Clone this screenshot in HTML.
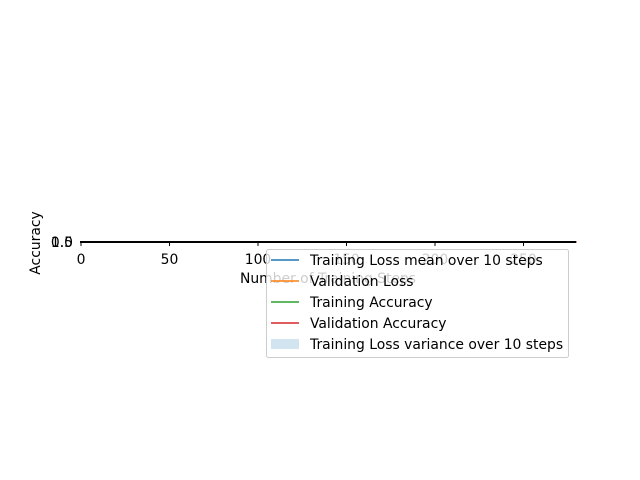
<!DOCTYPE html>
<html><head><meta charset="utf-8"><style>
body{margin:0;background:#fff;}
svg{display:block;font-family:"DejaVu Sans","Liberation Sans",sans-serif;}
</style></head><body>
<svg id="c" width="640" height="480">
<rect width="640" height="480" fill="#fff"/>
<g id="marks"></g>
<rect x="80" y="241" width="496" height="2" fill="#000"/>
<g id="xt"></g>
<text x="73" y="247" font-size="13.9" text-anchor="end">0.5</text>
<text x="73" y="247" font-size="13.9" text-anchor="end">1.0</text>
<text x="328" y="283" font-size="13.9" text-anchor="middle">Number of Training Steps</text>
<text transform="translate(40,243) rotate(-90)" font-size="13.9" text-anchor="middle">Accuracy</text>
<g>
<rect x="266.5" y="249.5" width="302" height="108" rx="2" fill="#fff" fill-opacity="0.8" stroke="#ccc"/>
<line x1="271" x2="299" y1="260" y2="260" stroke="#1f77b4" stroke-width="1.5"/>
<text x="310" y="265" font-size="13.9">Training Loss mean over 10 steps</text>
<line x1="271" x2="299" y1="281" y2="281" stroke="#ff7f0e" stroke-width="1.5"/>
<text x="310" y="286" font-size="13.9">Validation Loss</text>
<line x1="271" x2="299" y1="302" y2="302" stroke="#2ca02c" stroke-width="1.5"/>
<text x="310" y="307" font-size="13.9">Training Accuracy</text>
<line x1="271" x2="299" y1="323" y2="323" stroke="#d62728" stroke-width="1.5"/>
<text x="310" y="328" font-size="13.9">Validation Accuracy</text>
<rect x="271" y="339" width="28" height="10" fill="#1f77b4" fill-opacity="0.2"/>
<text x="310" y="349" font-size="13.9">Training Loss variance over 10 steps</text>
</g>
</svg>
<script>
const xTicks=[0,50,100,150,200,250];
const steps=[0,280];
const trainAcc=[0.75,0.75];
const valAcc=[0.75,0.75];
const x0=81,xs=1.77,yTop=241.5,yBot=242.5,yMin=0.5,yMax=1.0;
const sx=v=>x0+v*xs, sy=v=>yBot-(v-yMin)/(yMax-yMin)*(yBot-yTop);
const NS="http://www.w3.org/2000/svg";
const xt=document.getElementById('xt');
xTicks.forEach(t=>{
 const l=document.createElementNS(NS,'line');
 l.setAttribute('x1',sx(t));l.setAttribute('x2',sx(t));l.setAttribute('y1',243);l.setAttribute('y2',246);l.setAttribute('stroke','#000');
 
 
 xt.appendChild(l);
 const tx=document.createElementNS(NS,'text');
 tx.setAttribute('x',sx(t));tx.setAttribute('y',264);tx.setAttribute('font-size','13.9');tx.setAttribute('text-anchor','middle');tx.textContent=t;
 
 
 xt.appendChild(tx);
});
const m=document.getElementById('marks');
[[trainAcc,'#2ca02c','training-accuracy-line'],[valAcc,'#d62728','validation-accuracy-line']].forEach(([s,c,n])=>{
 const p=document.createElementNS(NS,'polyline');
 p.setAttribute('points',s.map((v,i)=>sx(steps[i])+','+sy(v)).join(' '));
 p.setAttribute('fill','none');p.setAttribute('stroke',c);p.setAttribute('stroke-width','1.5');
 
 
 m.appendChild(p);
});
</script>
</body></html>
